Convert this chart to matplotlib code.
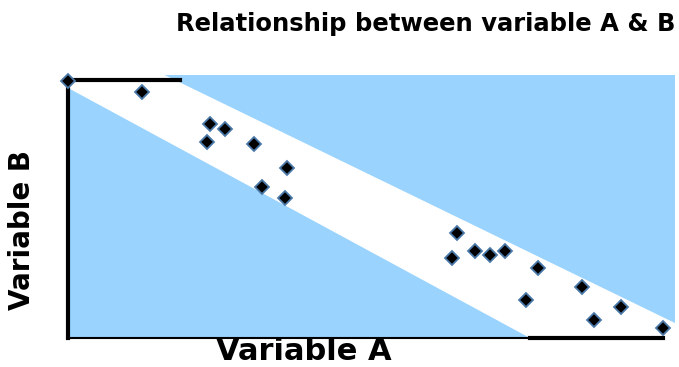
import numpy as np
import matplotlib.pyplot as plt
from matplotlib.patches import Polygon

# scatter points (arbitrary units)
var_a = [0.0, 1.24, 2.38, 2.63, 2.33, 3.12, 3.67, 3.25, 3.63,
         6.52, 6.43, 6.82, 7.07, 7.32, 7.87, 8.61, 7.67, 9.26, 8.81, 9.97]
var_b = [9.96, 9.53, 8.29, 8.10, 7.60, 7.52, 6.59, 5.85, 5.43,
         4.07, 3.10, 3.37, 3.22, 3.37, 2.71, 1.98, 1.47, 1.20, 0.70, 0.39]

blue = '#99d3fe'
W, H = 679, 367

fig = plt.figure(figsize=(6.79, 3.67), dpi=100)
ax = fig.add_axes([0.1001, 0.079, 0.894, 0.7166])
ax.set_xlim(0, 10.17)
ax.set_ylim(0, 10.19)
ax.set_facecolor(blue)

# white band around the trend
band = Polygon([(0, 10.19), (1.62, 10.19), (10.17, 0.58), (10.17, 0),
                (7.74, 0), (0, 9.69)], closed=True, facecolor='white',
               edgecolor='none', zorder=1)
ax.add_patch(band)

for s in ['top', 'right']:
    ax.spines[s].set_visible(False)
ax.spines['left'].set_linewidth(3)
ax.spines['left'].set_bounds(0, 10.0)
ax.spines['bottom'].set_linewidth(1.5)
ax.spines['bottom'].set_bounds(0, 9.97)
ax.plot([0, 1.88], [10.0, 10.0], color='black', lw=3, zorder=2, clip_on=False)
ax.plot([7.74, 9.97], [0, 0], color='black', lw=3, zorder=2, clip_on=False)

ax.plot(var_a, var_b, linestyle='none', marker='D', markersize=7.5,
        markerfacecolor='black', markeredgecolor='#4a78a8', markeredgewidth=1.3,
        zorder=3, clip_on=False)

ax.set_xticks([])
ax.set_yticks([])
fig.text(304 / W, 1 - 360 / H, 'Variable A', ha='center', va='baseline',
         fontsize=22, fontweight='bold')
fig.text(22 / W, 1 - 230 / H, 'Variable B', ha='center', va='center',
         rotation=90, fontsize=20, fontweight='bold')
fig.text(675 / W, 1 - 31 / H, 'Relationship between variable A & B', ha='right',
         va='baseline', fontsize=17.5, fontweight='bold')

fig.savefig('out.png', dpi=100)
